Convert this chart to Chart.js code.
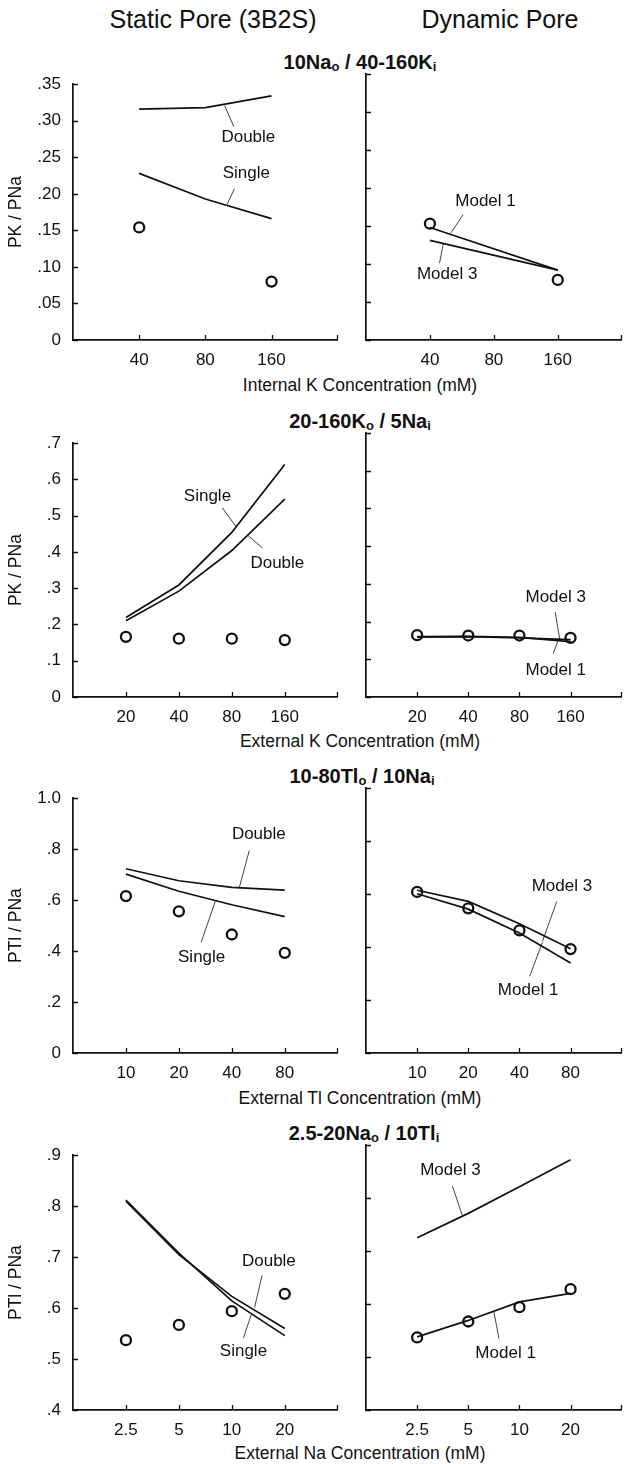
<!DOCTYPE html>
<html>
<head>
<meta charset="utf-8">
<script src="https://cdn.jsdelivr.net/npm/chart.js@4"></script>
<style>
  html, body { margin: 0; padding: 0; background: #fff; }
  #page { position: relative; width: 629px; height: 1464px; overflow: hidden; font-family: "Liberation Sans", Arial, sans-serif; color: #111; }
  .txt { position: absolute; transform: translate(-50%, -50%); white-space: nowrap; }
  .head { font-size: 25px; }
  .ptitle { font-size: 20px; font-weight: bold; }
  .ptitle sub { font-size: 13px; vertical-align: -2px; }
  .xtitle { font-size: 17.5px; }
  canvas { position: absolute; }
</style>
</head>
<body>
<div id="page">
  <div class="txt head" style="left:213px; top:19px">Static Pore (3B2S)</div>
  <div class="txt head" style="left:500px; top:19px">Dynamic Pore</div>

  <div class="txt ptitle" style="left:360px; top:62px">10Na<sub>o</sub> / 40-160K<sub>i</sub></div>
  <div class="txt xtitle" style="left:360px; top:385px">Internal K Concentration (mM)</div>

  <div class="txt ptitle" style="left:360px; top:421px">20-160K<sub>o</sub> / 5Na<sub>i</sub></div>
  <div class="txt xtitle" style="left:360px; top:741px">External K Concentration (mM)</div>

  <div class="txt ptitle" style="left:362px; top:776px">10-80Tl<sub>o</sub> / 10Na<sub>i</sub></div>
  <div class="txt xtitle" style="left:360px; top:1098px">External Tl Concentration (mM)</div>

  <div class="txt ptitle" style="left:364px; top:1133px">2.5-20Na<sub>o</sub> / 10Tl<sub>i</sub></div>
  <div class="txt xtitle" style="left:360px; top:1453px">External Na Concentration (mM)</div>
</div>

<script>
// ---- data ----

// 10Nao / 40-160Ki
const kInLabels = ['40', '80', '160'];
const kInTicksY = [0, 0.05, 0.10, 0.15, 0.20, 0.25, 0.30, 0.35];
const kInExpStatic = [0.154, null, 0.080];
const kInSingle = [0.228, 0.193, 0.166];
const kInDouble = [0.316, 0.318, 0.334];
const kInExpDynamic = [0.153, null, 0.079];
const kInModel1 = [0.148, null, 0.092];
const kInModel3 = [0.131, null, 0.092];

// 20-160Ko / 5Nai
const kOutLabels = ['20', '40', '80', '160'];
const kOutTicksY = [0, 0.1, 0.2, 0.3, 0.4, 0.5, 0.6, 0.7];
const kOutExpStatic = [0.166, 0.161, 0.161, 0.157];
const kOutSingle = [0.219, 0.309, 0.454, 0.641];
const kOutDouble = [0.210, 0.292, 0.404, 0.546];
const kOutExpDynamic = [0.164, 0.163, 0.163, 0.157];
const kOutModel1 = [0.160, 0.161, 0.158, 0.147];
const kOutModel3 = [0.159, 0.160, 0.157, 0.152];

// 10-80Tlo / 10Nai
const tlOutLabels = ['10', '20', '40', '80'];
const tlOutTicksY = [0, 0.2, 0.4, 0.6, 0.8, 1.0];
const tlOutExpStatic = [0.616, 0.556, 0.465, 0.393];
const tlOutSingle = [0.702, 0.635, 0.582, 0.535];
const tlOutDouble = [0.723, 0.676, 0.650, 0.639];
const tlOutExpDynamic = [0.608, 0.546, 0.463, 0.392];
const tlOutModel1 = [0.601, 0.543, 0.453, 0.340];
const tlOutModel3 = [0.614, 0.572, 0.488, 0.393];

// 2.5-20Nao / 10Tli
const naOutLabels = ['2.5', '5', '10', '20'];
const naOutTicksY = [0.4, 0.5, 0.6, 0.7, 0.8, 0.9];
const naOutExp = [0.537, 0.567, 0.594, 0.628];
const naOutSingle = [0.812, 0.708, 0.614, 0.546];
const naOutDouble = [0.810, 0.705, 0.623, 0.560];
const naOutModel1 = [0.538, 0.569, 0.604, 0.620];
const naOutModel3 = [0.725, 0.771, 0.821, 0.872];

// ---- layout ----
const FONT = '"Liberation Sans", Arial, sans-serif';
const INK = '#111';
const ROWS = [
  { top: 74, bottom: 340 },
  { top: 433, bottom: 697 },
  { top: 788, bottom: 1053 },
  { top: 1145, bottom: 1410 }
];
const PAD_TOP = 12;
const X_AXIS_H = 30;

// categories sit at 1..n on a linear axis, so the axis runs 0..n+1
function toPoints(values) {
  const pts = [];
  values.forEach((v, i) => { if (v !== null) pts.push({ x: i + 1, y: v }); });
  return pts;
}

function fmtTick(v, dec) {
  if (Math.abs(v) < 1e-9) return '0';
  const s = v.toFixed(dec);
  return s.startsWith('0') ? s.slice(1) : s;
}

// inward tick marks + callout labels with leader lines
const decorPlugin = {
  id: 'decor',
  afterDatasetsDraw(chart, args, opts) {
    const ctx = chart.ctx;
    const xs = chart.scales.x, ys = chart.scales.y;
    const area = chart.chartArea;
    ctx.save();
    ctx.strokeStyle = INK;
    ctx.lineWidth = 1.3;
    ctx.beginPath();
    ys.ticks.forEach(t => {
      const py = Math.round(ys.getPixelForValue(t.value)) + 0.5;
      ctx.moveTo(area.left, py);
      ctx.lineTo(area.left + 5, py);
    });
    xs.ticks.forEach(t => {
      const px = Math.round(xs.getPixelForValue(t.value)) + 0.5;
      ctx.moveTo(px, area.bottom);
      ctx.lineTo(px, area.bottom - 5);
    });
    const endX = Math.round(xs.getPixelForValue(xs.max)) - 0.5;
    ctx.moveTo(endX, area.bottom);
    ctx.lineTo(endX, area.bottom - 5);
    ctx.stroke();

    ctx.fillStyle = INK;
    ctx.font = '17px ' + FONT;
    ctx.textAlign = 'center';
    ctx.textBaseline = 'middle';
    ctx.lineWidth = 0.8;
    (opts.notes || []).forEach(n => {
      ctx.fillText(n.text, xs.getPixelForValue(n.at[0]), ys.getPixelForValue(n.at[1]));
      ctx.beginPath();
      ctx.moveTo(xs.getPixelForValue(n.from[0]), ys.getPixelForValue(n.from[1]));
      ctx.lineTo(xs.getPixelForValue(n.to[0]), ys.getPixelForValue(n.to[1]));
      ctx.stroke();
    });
    ctx.restore();
  }
};

function makePanel(row, side, p) {
  const geo = ROWS[row];
  const isLeft = side === 'left';
  const canvasLeft = isLeft ? 0 : 345;
  const width = isLeft ? 345 : 284;
  const height = geo.bottom - geo.top + PAD_TOP + X_AXIS_H;

  const canvas = document.createElement('canvas');
  canvas.width = width;
  canvas.height = height;
  canvas.style.left = canvasLeft + 'px';
  canvas.style.top = (geo.top - PAD_TOP) + 'px';
  document.getElementById('page').appendChild(canvas);

  const lineSets = p.lines.map(values => ({
    data: toPoints(values),
    borderColor: INK,
    borderWidth: 1.7,
    pointRadius: 0,
    tension: 0,
    fill: false
  }));
  const expSet = {
    data: toPoints(p.exp),
    showLine: false,
    pointRadius: 5,
    pointBorderWidth: 2.3,
    pointBorderColor: INK,
    pointBackgroundColor: 'rgba(255,255,255,0)'
  };

  const n = p.labels.length;
  new Chart(canvas.getContext('2d'), {
    type: 'line',
    data: { datasets: [...lineSets, expSet] },
    plugins: [decorPlugin],
    options: {
      responsive: false,
      animation: false,
      layout: { padding: { top: PAD_TOP, left: isLeft ? 0 : 21, right: isLeft ? 4 : 0, bottom: 0 } },
      plugins: {
        legend: { display: false },
        tooltip: { enabled: false },
        decor: { notes: p.notes }
      },
      scales: {
        x: {
          type: 'linear',
          min: 0,
          max: n + 1,
          afterBuildTicks: s => { s.ticks = p.labels.map((l, i) => ({ value: i + 1 })); },
          afterFit: s => { s.height = X_AXIS_H; },
          grid: { display: false, drawTicks: false },
          border: { display: true, color: INK, width: 1.7 },
          ticks: {
            padding: 10,
            color: INK,
            font: { family: FONT, size: 17 },
            callback: (v) => p.labels[Math.round(v) - 1] || ''
          }
        },
        y: {
          type: 'linear',
          min: p.yTicks[0],
          max: p.yTicks[p.yTicks.length - 1],
          afterBuildTicks: s => { s.ticks = p.yTicks.map(v => ({ value: v })); },
          afterFit: s => { s.width = isLeft ? 73 : 0; },
          grid: { display: false, drawTicks: false },
          border: { display: true, color: INK, width: 1.7 },
          title: {
            display: isLeft,
            text: p.yTitle || '',
            color: INK,
            font: { family: FONT, size: 17.5 },
            padding: { top: 6, bottom: 0 }
          },
          ticks: {
            display: isLeft,
            padding: 12,
            color: INK,
            font: { family: FONT, size: 17 },
            callback: (v) => fmtTick(v, p.yDec)
          }
        }
      }
    }
  });
}

// ---- row 1 ----
makePanel(0, 'left', {
  labels: kInLabels, yTicks: kInTicksY, yDec: 2, yTitle: 'PK / PNa',
  exp: kInExpStatic, lines: [kInSingle, kInDouble],
  notes: [
    { text: 'Double', at: [2.65, 0.277], from: [2.29, 0.321], to: [2.43, 0.292] },
    { text: 'Single', at: [2.62, 0.228], from: [2.44, 0.207], to: [2.33, 0.186] }
  ]
});
makePanel(0, 'right', {
  labels: kInLabels, yTicks: kInTicksY, yDec: 2,
  exp: kInExpDynamic, lines: [kInModel1, kInModel3],
  notes: [
    { text: 'Model 1', at: [1.87, 0.183], from: [1.52, 0.165], to: [1.33, 0.141] },
    { text: 'Model 3', at: [1.27, 0.087], from: [1.15, 0.101], to: [1.21, 0.127] }
  ]
});

// ---- row 2 ----
makePanel(1, 'left', {
  labels: kOutLabels, yTicks: kOutTicksY, yDec: 1, yTitle: 'PK / PNa',
  exp: kOutExpStatic, lines: [kOutSingle, kOutDouble],
  notes: [
    { text: 'Single', at: [2.54, 0.553], from: [2.82, 0.522], to: [3.08, 0.47] },
    { text: 'Double', at: [3.86, 0.37], from: [3.58, 0.411], to: [3.31, 0.445] }
  ]
});
makePanel(1, 'right', {
  labels: kOutLabels, yTicks: kOutTicksY, yDec: 1,
  exp: kOutExpDynamic, lines: [kOutModel1, kOutModel3],
  notes: [
    { text: 'Model 3', at: [3.71, 0.264], from: [3.70, 0.225], to: [3.79, 0.152] },
    { text: 'Model 1', at: [3.71, 0.071], from: [3.66, 0.115], to: [3.75, 0.148] }
  ]
});

// ---- row 3 ----
makePanel(2, 'left', {
  labels: tlOutLabels, yTicks: tlOutTicksY, yDec: 1, yTitle: 'PTl / PNa',
  exp: tlOutExpStatic, lines: [tlOutSingle, tlOutDouble],
  notes: [
    { text: 'Double', at: [3.51, 0.858], from: [3.33, 0.795], to: [3.14, 0.648] },
    { text: 'Single', at: [2.43, 0.377], from: [2.42, 0.434], to: [2.69, 0.597] }
  ]
});
makePanel(2, 'right', {
  labels: tlOutLabels, yTicks: tlOutTicksY, yDec: 1,
  exp: tlOutExpDynamic, lines: [tlOutModel1, tlOutModel3],
  notes: [
    { text: 'Model 3', at: [3.83, 0.629], from: [3.73, 0.572], to: [3.45, 0.421] },
    { text: 'Model 1', at: [3.17, 0.2365], from: [3.2, 0.289], to: [3.45, 0.418] }
  ]
});

// ---- row 4 ----
makePanel(3, 'left', {
  labels: naOutLabels, yTicks: naOutTicksY, yDec: 1, yTitle: 'PTl / PNa',
  exp: naOutExp, lines: [naOutSingle, naOutDouble],
  notes: [
    { text: 'Double', at: [3.70, 0.6925], from: [3.57, 0.664], to: [3.43, 0.601] },
    { text: 'Single', at: [3.22, 0.5145], from: [3.22, 0.5415], to: [3.37, 0.588] }
  ]
});
makePanel(3, 'right', {
  labels: naOutLabels, yTicks: naOutTicksY, yDec: 1,
  exp: naOutExp, lines: [naOutModel1, naOutModel3],
  notes: [
    { text: 'Model 3', at: [1.65, 0.8516], from: [1.69, 0.8226], to: [1.88, 0.768] },
    { text: 'Model 1', at: [2.73, 0.507], from: [2.60, 0.535], to: [2.5, 0.5855] }
  ]
});
</script>
</body>
</html>
